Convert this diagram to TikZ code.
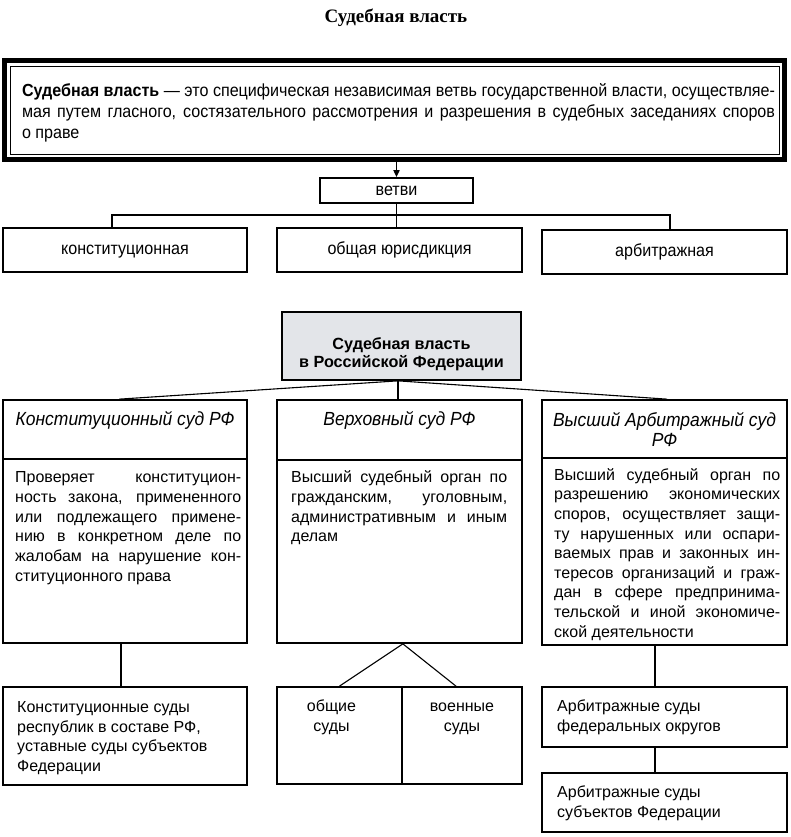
\documentclass[tikz,border=0pt]{standalone}
\usepackage{fontspec}
\setmainfont{Liberation Sans}
\newfontfamily\condf[FakeStretch=0.92]{Liberation Sans}
\newfontfamily\titlef{Liberation Serif}
\usetikzlibrary{arrows.meta,calc}
\hyphenpenalty=10000
\exhyphenpenalty=10000
\definecolor{grayfill}{RGB}{227,229,233}
\newcommand\topst[1]{\rule{0pt}{#1}}
\tikzset{
  bx/.style={draw, line width=1.7pt, inner sep=0pt},
  conn/.style={line width=1.7pt},
  thinconn/.style={line width=1.1pt},
  condlab/.style={font=\condf\fontsize{17.5}{21}\selectfont, text height=9pt, text depth=0pt},
  bodytxt/.style={font=\fontsize{16}{19.9}\selectfont, inner sep=0pt, text width=226pt, align=justify, anchor=north west},
  lefttxt/.style={font=\fontsize{16}{19.8}\selectfont, inner sep=0pt, align=left, anchor=north west},
  centtxt/.style={font=\fontsize{16}{19.8}\selectfont, inner sep=0pt, align=center, anchor=north},
  itlab/.style={font=\condf\itshape\fontsize{19}{20}\selectfont, inner sep=0pt, align=center},
}
\begin{document}
\begin{tikzpicture}[x=1pt,y=-1pt]
\useasboundingbox (0,0) rectangle (791,837);

% title
\node[font=\titlef\bfseries\fontsize{19}{21}\selectfont, inner sep=0pt] (title) at (396,18) {Судебная власть};

% definition box
\node[draw, line width=5pt, minimum width=780pt, minimum height=99pt, inner sep=0pt] (defo) at (394.5,110) {};
\node[draw, line width=0.9pt, minimum width=769pt, minimum height=88pt, inner sep=0pt] (defi) at (394.5,110) {};
\node[font=\condf\fontsize{17.5}{21}\selectfont, inner sep=0pt, text width=753pt, align=justify, anchor=north] (deft) at (398.5,81)
{\topst{15pt}{\bfseries Судебная власть} — это специфическая независимая ветвь государственной власти, осуществляе-\linebreak мая путем гласного, состязательного рассмотрения и разрешения в судебных заседаниях споров\linebreak о праве};

% branches
\node[bx, condlab, minimum width=153pt, minimum height=25pt] (vet) at (396.5,190.5) {ветви};
\draw[line width=1.7pt, -{Triangle[width=6pt,length=7pt]}] (vet.north |- defo.south) -- (vet.north);

\node[bx, condlab, minimum width=244pt, minimum height=44pt] (k1) at (125,250) {конституционная};
\node[bx, condlab, minimum width=245pt, minimum height=44pt] (k2) at (399.5,250) {общая юрисдикция};
\node[bx, condlab, minimum width=245pt, minimum height=44pt] (k3) at (664.5,252) {арбитражная};

\coordinate (busL) at (112,215);
\coordinate (busR) at (670,215);
\draw[conn] (busL |- k1.north) -- (busL) -- (busR) -- (busR |- k3.north);
\draw[conn] (vet.south) -- (vet.south |- k2.north);

% judicial power in RF
\node[bx, fill=grayfill, minimum width=239pt, minimum height=68pt] (g) at (401.5,346) {};
\node[font=\bfseries\fontsize{16.2}{18.5}\selectfont, inner sep=0pt, align=center, anchor=north] (gt) at (401.5,335)
{\topst{14pt}Судебная власть\\в Российской Федерации};

% court boxes
\node[bx, minimum width=244pt, minimum height=59pt] (ct1) at (125,429.5) {};
\node[bx, minimum width=245pt, minimum height=60pt] (ct2) at (399.5,430) {};
\node[bx, minimum width=245pt, minimum height=58pt] (ct3) at (664.5,429) {};
\node[bx, minimum width=244pt, minimum height=184pt] (cb1) at (125,551) {};
\node[bx, minimum width=245pt, minimum height=183pt] (cb2) at (399.5,551.5) {};
\node[bx, minimum width=245pt, minimum height=187pt] (cb3) at (664.5,551.5) {};

\coordinate (gs) at ($(g.south)+(-3.5,0)$);
\draw[thinconn] (gs) -- ($(ct1.north west)+(117,0)$);
\draw[thinconn] (gs) -- ($(ct3.north west)+(126,0)$);
\draw[conn] (gs) -- (gs |- ct2.north);

\node[itlab, anchor=base] (t1) at (125,425) {Конституционный суд РФ};
\node[itlab, anchor=base] (t2) at (399.5,425) {Верховный суд РФ};
\node[itlab, anchor=north] (t3) at (664.5,409) {\topst{17pt}Высший Арбитражный суд\\РФ};

\node[bodytxt] (x1) at (15,467) {\topst{15pt}Проверяет конституцион-\linebreak ность закона, примененного\linebreak или подлежащего примене-\linebreak нию в конкретном деле по\linebreak жалобам на нарушение кон-\linebreak ституционного права};
\node[bodytxt, text width=216pt] (x2) at (291,467) {\topst{15pt}Высший судебный орган по\linebreak гражданским, уголовным,\linebreak административным и иным\linebreak делам};
\node[bodytxt, font=\fontsize{16}{19.6}\selectfont] (x3) at (554,465) {\topst{15pt}Высший судебный орган по\linebreak разрешению экономических\linebreak споров, осуществляет защи-\linebreak ту нарушенных или оспари-\linebreak ваемых прав и законных ин-\linebreak тересов организаций и граж-\linebreak дан в сфере предпринима-\linebreak тельской и иной экономиче-\linebreak ской деятельности};

% lower boxes
\node[bx, minimum width=244pt, minimum height=98pt] (b1) at (125,736) {};
\node[bx, minimum width=125pt, minimum height=97pt] (b2L) at (339.5,735.5) {};
\node[bx, minimum width=120pt, minimum height=97pt] (b2R) at (462,735.5) {};
\node[bx, minimum width=245pt, minimum height=60pt] (b3) at (664.5,717) {};
\node[bx, minimum width=245pt, minimum height=59pt] (b4) at (664.5,802.5) {};

\coordinate (d1) at ($(cb1.south)+(-4,0)$);
\draw[conn] (d1) -- (d1 |- b1.north);
\coordinate (apex) at (b2L.north east |- cb2.south);
\draw[thinconn] (apex) -- (b2L.north);
\draw[thinconn] (apex) -- ($(b2R.north)+(-6,0)$);
\coordinate (d3) at ($(cb3.south)+(-9.5,0)$);
\draw[conn] (d3) -- (d3 |- b3.north);
\draw[conn] (b3.south -| d3) -- (d3 |- b4.north);

\node[lefttxt] (y1) at (17,697) {\topst{15pt}Конституционные суды\\республик в составе РФ,\\уставные суды субъектов\\Федерации};
\node[centtxt] (y2) at ($(b2L.north |- 0,696)+(-8,0)$) {\topst{15pt}общие\\суды};
\node[centtxt] (y3) at (b2R.north |- 0,696) {\topst{15pt}военные\\суды};
\node[lefttxt] (y4) at (557,696) {\topst{15pt}Арбитражные суды\\федеральных округов};
\node[lefttxt] (y5) at (557,782) {\topst{15pt}Арбитражные суды\\субъектов Федерации};
\end{tikzpicture}
\end{document}
